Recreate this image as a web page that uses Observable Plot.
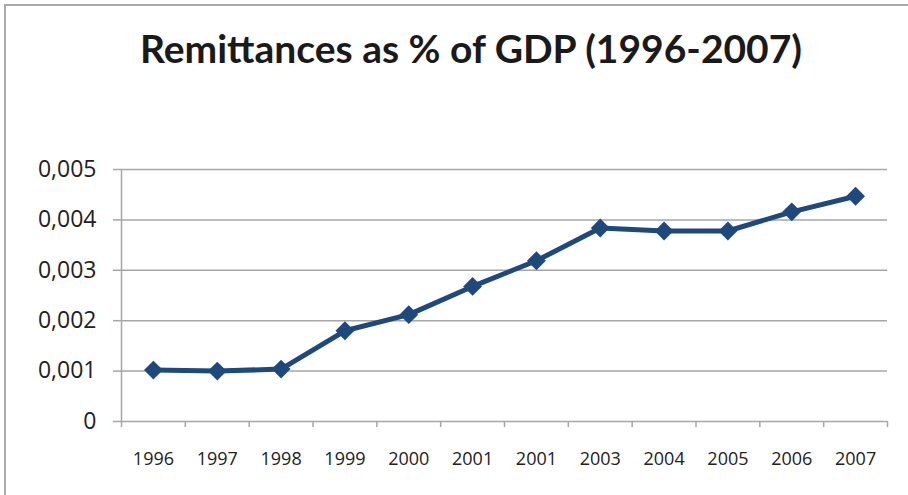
<!DOCTYPE html>
<html><head><meta charset="utf-8">
<script src="https://cdn.jsdelivr.net/npm/d3@7"></script>
<script src="https://cdn.jsdelivr.net/npm/@observablehq/plot@0.6"></script>
<style>
body{margin:0;background:#fff;}
#wrap{position:relative;width:908px;height:495px;overflow:hidden;background:#fff;}
#frame{position:absolute;left:4px;top:4px;width:940px;height:540px;border:2px solid #a9a9a9;box-sizing:border-box;}
#title{position:absolute;left:0;top:29px;width:942px;text-align:center;font-family:Lato,sans-serif;font-weight:bold;font-size:39px;line-height:1;color:#1a1a1a;white-space:nowrap;}
#chart{position:absolute;left:0;top:0;}
</style>
</head><body>
<div id="wrap"><div id="frame"></div><div id="chart"></div><div id="title">Remittances as % of GDP (1996-2007)</div></div>
<script>
const yearLabels = ["1996","1997","1998","1999","2000","2001","2001","2003","2004","2005","2006","2007"];
const remittances = [0.00102,0.00100,0.00104,0.00180,0.00212,0.00268,0.00319,0.00384,0.00378,0.00378,0.00416,0.00447];
const yTicks = [0,0.001,0.002,0.003,0.004,0.005];

const data = yearLabels.map((label,i)=>({i, label, value: remittances[i]}));
const idx = yearLabels.map((_,i)=>i);
const bounds = yearLabels.map((_,i)=>i-0.5).concat([yearLabels.length-0.5]);
const fmt = d => d === 0 ? "0" : d3.format(".3f")(d).replace(".", ",");
const grey = "#a6a6a6";
const blue = "#1f497d";

const chart = Plot.plot({
  width: 908, height: 495,
  marginLeft: 121, marginRight: 21, marginTop: 169, marginBottom: 74,
  style: {fontFamily: "'Open Sans', sans-serif", background: "transparent", color: "#222"},
  x: {type: "linear", domain: [-0.5, yearLabels.length - 0.5], axis: null},
  y: {domain: [0, 0.005], axis: null},
  marks: [
    Plot.gridY(yTicks, {stroke: grey, strokeOpacity: 1, strokeWidth: 1.5}),
    Plot.ruleX([-0.5], {stroke: grey, strokeWidth: 1.5}),
    Plot.axisY({ticks: yTicks, tickSize: 8, tickPadding: 17, tickFormat: fmt, fontSize: 23, stroke: grey, strokeWidth: 1.5, fill: "#222", label: null}),
    Plot.axisX({ticks: bounds, tickSize: 6, tickFormat: () => "", stroke: grey, strokeWidth: 1.5, label: null}),
    Plot.axisX({ticks: idx, tickSize: 0, tickPadding: 31, tickFormat: i => yearLabels[i], fontSize: 18, fill: "#222", label: null}),
    Plot.line(data, {x: "i", y: "value", stroke: blue, strokeWidth: 5}),
    Plot.dot(data, {x: "i", y: "value", symbol: "diamond2", r: 8.5, fill: blue, stroke: "none"})
  ]
});
document.getElementById("chart").appendChild(chart);
</script>
</body></html>
